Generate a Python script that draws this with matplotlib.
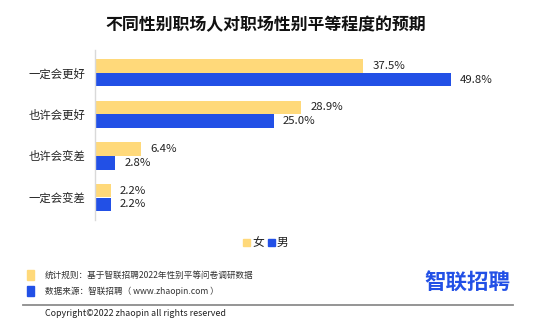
import matplotlib
matplotlib.use("Agg")
import matplotlib.pyplot as plt
from matplotlib.patches import Rectangle
from matplotlib.lines import Line2D

plt.rcParams['font.family'] = ['Noto Sans CJK SC', 'DejaVu Sans']

categories = ["一定会更好", "也许会更好", "也许会变差", "一定会变差"]
female = [37.5, 28.9, 6.4, 2.2]
male = [49.8, 25.0, 2.8, 2.2]
series_names = ["女", "男"]

YELLOW = "#FFD97A"
BLUE = "#2250E6"

W, H = 550, 333
fig = plt.figure(figsize=(W / 100, H / 100), dpi=100)

def fx(px):
    return px / W

def fy(py):
    return 1 - py / H

# main plot area
ax = fig.add_axes([fx(95), fy(220.4), 60 * 7.143 / W, 170.6 / H])
ypos = list(range(len(categories)))
off = 0.166
h = 0.33
ax.barh([y - off for y in ypos], female, height=h, color=YELLOW)
ax.barh([y + off for y in ypos], male, height=h, color=BLUE)
for y, v in zip(ypos, female):
    ax.text(v + 1.3, y - off, f"{v:.1f}%", va="center", ha="left", fontsize=8.2, color="#222222")
for y, v in zip(ypos, male):
    ax.text(v + 1.3, y + off, f"{v:.1f}%", va="center", ha="left", fontsize=8.2, color="#222222")

ax.set_xlim(0, 60)
ax.set_ylim(3.55, -0.55)
ax.set_yticks(ypos)
ax.set_yticklabels(categories, fontsize=8.2, color="#222222")
ax.tick_params(axis="y", length=0, pad=7)
ax.set_xticks([])
for s in ["top", "right", "bottom"]:
    ax.spines[s].set_visible(False)
ax.spines["left"].set_color("#d9d9d9")
ax.spines["left"].set_linewidth(1)

# title
fig.text(fx(266), fy(25), "不同性别职场人对职场性别平等程度的预期", ha="center", va="center",
         fontsize=12.2, fontweight="bold", color="#111111")

# legend
fig.patches.append(Rectangle((fx(243), fy(246)), fx(7), 7 / H, color=YELLOW, transform=fig.transFigure))
fig.text(fx(252), fy(242), series_names[0], ha="left", va="center", fontsize=8.5, color="#222222")
fig.patches.append(Rectangle((fx(268), fy(246)), fx(7), 7 / H, color=BLUE, transform=fig.transFigure))
fig.text(fx(277), fy(242), series_names[1], ha="left", va="center", fontsize=8.5, color="#222222")

# footer notes
fig.patches.append(Rectangle((fx(27), fy(280)), fx(7), 10 / H, color=YELLOW, transform=fig.transFigure))
fig.text(fx(45), fy(275), "统计规则：基于智联招聘2022年性别平等问卷调研数据", ha="left", va="center",
         fontsize=6.2, color="#333333")
fig.patches.append(Rectangle((fx(27), fy(296)), fx(7), 10 / H, color=BLUE, transform=fig.transFigure))
fig.text(fx(45), fy(291), "数据来源：智联招聘（ www.zhaopin.com ）", ha="left", va="center",
         fontsize=6.2, color="#333333")

fig.lines.append(Line2D([fx(23), fx(513)], [fy(305), fy(305)], color="#8c8c8c", lw=1.3,
                        transform=fig.transFigure))
fig.text(fx(45), fy(314), "Copyright©2022 zhaopin all rights reserved", ha="left", va="center",
         fontsize=6.4, color="#222222")

# brand mark
fig.text(fx(510), fy(282), "智联招聘", ha="right", va="center", fontsize=15.5,
         fontweight="bold", color=BLUE)

fig.savefig("out.png", dpi=100, facecolor="white")
